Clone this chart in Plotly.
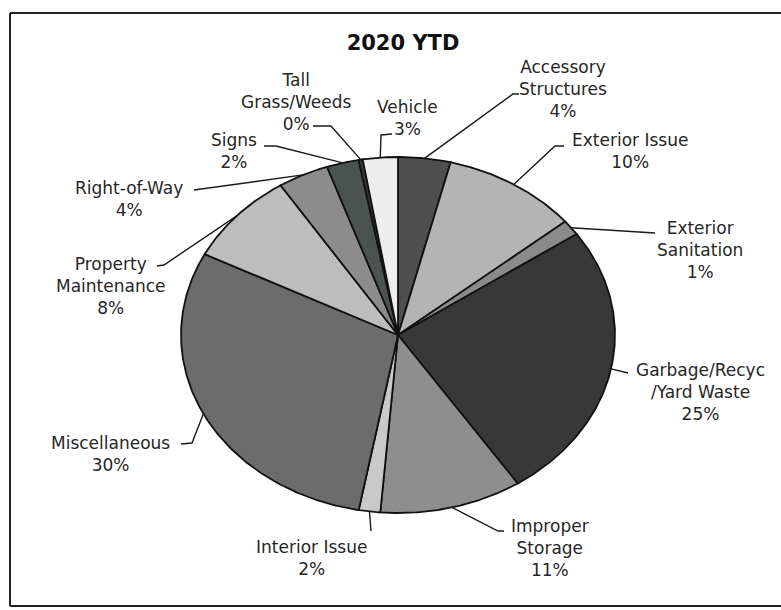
import numpy as np
import plotly.graph_objects as go

# Violation categories, clockwise from 12 o'clock, and their share of 2020 YTD cases (%)
categories = [
    "Accessory<br>Structures",
    "Exterior Issue",
    "Exterior<br>Sanitation",
    "Garbage/Recyc<br>/Yard Waste",
    "Improper<br>Storage",
    "Interior Issue",
    "Miscellaneous",
    "Property<br>Maintenance",
    "Right-of-Way",
    "Signs",
    "Tall<br>Grass/Weeds",
    "Vehicle",
]
shares = [3.9, 10.1, 1.4, 25.3, 10.6, 1.6, 29.6, 8.4, 3.8, 2.4, 0.3, 2.6]
slice_colors = [
    "#4f4f4f", "#b4b4b4", "#8a8a8a", "#383838", "#8e8e8e", "#c9c9c9",
    "#6c6c6c", "#bdbdbd", "#8c8c8c", "#4c524f", "#3a3a3a", "#eeeeee",
]

W, H = 781, 610
CX, CY = 398, 335          # pie centre (pixel space)
RX, RY = 217, 178          # horizontal / vertical radius

# label placement: text centre, then leader-line bend points (after the slice edge)
label_layout = [
    dict(text=(563, 89), bends=[(513, 94), (519, 94)]),
    dict(text=(630, 151), bends=[(555, 146), (564, 146)]),
    dict(text=(700, 250), bends=[(655, 233)]),
    dict(text=(700, 392), bends=[(628, 373)]),
    dict(text=(550, 548), bends=[(498, 531), (504, 531)]),
    dict(text=(311, 558), bends=[(371, 531)]),
    dict(text=(110, 454), bends=[(192, 443), (181, 444)]),
    dict(text=(110, 286), bends=[(164, 265), (157, 266)]),
    dict(text=(129, 199), bends=[(194, 190)]),
    dict(text=(234, 151), bends=[(276, 146), (264, 146)]),
    dict(text=(296, 102), bends=[(331, 126), (313, 126)]),
    dict(text=(407, 118), bends=[(381, 135), (392, 134)]),
]


def edge_point(theta):
    return CX + RX * np.sin(theta), CY - RY * np.cos(theta)


fig = go.Figure()

total = float(sum(shares))
start = 0.0
mid_angles = []
for name, val, col in zip(categories, shares, slice_colors):
    span = 2 * np.pi * val / total
    th = np.linspace(start, start + span, max(3, int(span * 120)))
    xs = [CX] + list(CX + RX * np.sin(th)) + [CX]
    ys = [CY] + list(CY - RY * np.cos(th)) + [CY]
    fig.add_trace(go.Scatter(
        x=xs, y=ys, mode="lines", fill="toself", fillcolor=col,
        line=dict(color="#111111", width=1.8), hoverinfo="skip",
        name=name.replace("<br>", " "), showlegend=False,
    ))
    mid_angles.append(start + span / 2)
    start += span

annotations = []
for name, val, mid, lay in zip(categories, shares, mid_angles, label_layout):
    ex, ey = edge_point(mid)
    pts = [(ex, ey)] + lay["bends"]
    fig.add_trace(go.Scatter(
        x=[p[0] for p in pts], y=[p[1] for p in pts], mode="lines",
        line=dict(color="#1a1a1a", width=1.4), hoverinfo="skip", showlegend=False,
    ))
    tx, ty = lay["text"]
    annotations.append(dict(
        x=tx, y=ty, xref="x", yref="y", showarrow=False,
        text=f"{name}<br>{round(val)}%", align="center",
        xanchor="center", yanchor="middle",
        font=dict(family="DejaVu Sans", size=17, color="#262626"),
    ))

# frame: left, top and bottom edges
frame = [
    dict(x0=10, y0=13, x1=10, y1=606),
    dict(x0=10, y0=13, x1=W, y1=13),
    dict(x0=10, y0=606, x1=W, y1=606),
]
shapes = [dict(type="line", xref="x", yref="y", line=dict(color="#222222", width=2), **f)
          for f in frame]

fig.update_layout(
    width=W, height=H,
    margin=dict(l=0, r=0, t=0, b=0),
    paper_bgcolor="white", plot_bgcolor="white",
    title=dict(
        text="<b>2020 YTD</b>", x=403 / W, y=1 - 43 / H,
        xanchor="center", yanchor="middle",
        font=dict(family="DejaVu Sans", size=21, color="#111111"),
    ),
    xaxis=dict(range=[0, W], visible=False, fixedrange=True),
    yaxis=dict(range=[H, 0], visible=False, fixedrange=True),
    annotations=annotations,
    shapes=shapes,
    showlegend=False,
)

fig.write_html("out.html")
